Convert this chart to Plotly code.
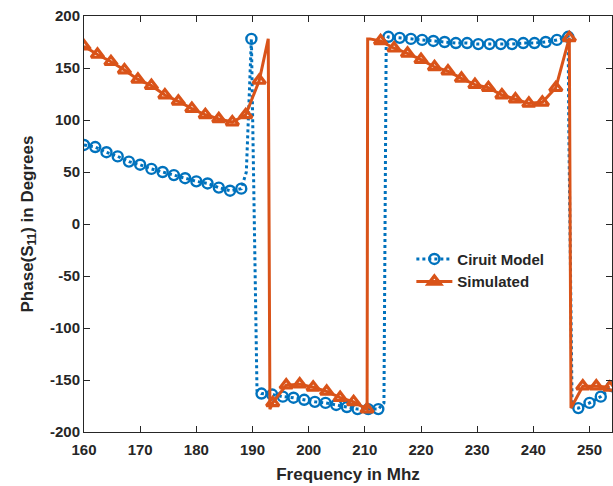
import plotly.graph_objects as go

# ---- Circuit model (blue): sampled points, drawn with circle markers
model_freq = [160, 162, 164, 166, 168, 170, 172, 174, 176, 178, 180, 182, 184, 186, 188,
              189.8,
              191.6, 193.5, 195.4, 197.3, 199.2, 201.1, 203.0, 204.9, 206.8, 208.7, 210.6, 212.4,
              214.2, 216.2, 218.2, 220.2, 222.2, 224.2, 226.2, 228.2, 230.2, 232.2, 234.2,
              236.2, 238.2, 240.2, 242.2, 244.2, 246.2,
              248, 250, 252, 254]
model_phase = [76, 74, 69, 65, 60, 57, 53, 50, 47, 44, 41, 39, 35, 32, 34,
               178,
               -163, -164, -166, -167, -169, -171, -172, -174, -176, -178, -178, -178,
               180, 179, 178, 177, 176, 175, 174, 174, 173, 173, 173,
               173, 174, 174, 175, 177, 180,
               -177, -172, -166, -156]
# Circuit model: intermediate points across the phase wraps (no markers)
model_wrap_freq = [188.9, 190.8, 213.4, 213.8, 246.3, 246.9]
model_wrap_phase = [50, -160, -172, 176, 95, -176]

# ---- Simulated (orange): sampled points, drawn with triangle markers
sim_freq = [160.0, 162.4, 164.8, 167.2, 169.6, 172.0, 174.4, 176.8, 179.2, 181.6, 184.0,
            186.4, 188.8, 191.2,
            193.6, 196.0, 198.4, 200.8, 203.2, 205.6, 208.0, 210.4,
            212.8, 215.2, 217.6, 220.0, 222.4, 224.8, 227.2, 229.6, 232.0, 234.4, 236.8,
            239.2, 241.6, 244.0, 246.4,
            248.8, 251.2, 253.6]
sim_phase = [171, 163, 156, 148, 139, 133, 124, 118, 111, 105, 101,
             98, 105, 138,
             -172, -155, -154, -157, -161, -167, -171, -178,
             176, 169, 164, 158, 151, 147, 140, 134, 131, 124, 120,
             116, 117, 131, 179,
             -156, -156, -157]
# Simulated: intermediate points across the phase wraps (no markers)
sim_wrap_freq = [192.8, 193.0, 193.1, 210.5, 210.9, 246.7]
sim_wrap_phase = [178, -25, -178, 178, 178, -177]

x_ticks = [160, 170, 180, 190, 200, 210, 220, 230, 240, 250]
y_ticks = [-200, -150, -100, -50, 0, 50, 100, 150, 200]
y_tick_labels = ["-200", "-150", "-100", "-50", "0", "50", "100", "150", "200"]

BLUE = "#0072BD"
ORANGE = "#D95319"
AX = "#262626"
FONT = "Liberation Sans, Arial, sans-serif"


def merge(f1, p1, f2, p2):
    pts = sorted([(f, p, True) for f, p in zip(f1, p1)] +
                 [(f, p, False) for f, p in zip(f2, p2)])
    xs = [a for a, _, _ in pts]
    ys = [b for _, b, _ in pts]
    sel = [i for i, (_, _, m) in enumerate(pts) if m]
    return xs, ys, sel


mx, my, msel = merge(model_freq, model_phase, model_wrap_freq, model_wrap_phase)
sx, sy, ssel = merge(sim_freq, sim_phase, sim_wrap_freq, sim_wrap_phase)

fig = go.Figure()
fig.add_trace(go.Scatter(
    x=mx, y=my, mode="lines+markers", name="Ciruit Model",
    line=dict(color=BLUE, width=3, dash="dot"),
    marker=dict(symbol="circle-open", size=10, color=BLUE, line=dict(width=2.4, color=BLUE)),
    selectedpoints=msel,
    selected=dict(marker=dict(opacity=1)),
    unselected=dict(marker=dict(opacity=0)),
))
fig.add_trace(go.Scatter(
    x=sx, y=sy, mode="lines+markers", name="Simulated",
    line=dict(color=ORANGE, width=3),
    marker=dict(symbol="triangle-up-open", size=11, color=ORANGE, line=dict(width=3.2, color=ORANGE)),
    selectedpoints=ssel,
    selected=dict(marker=dict(opacity=1)),
    unselected=dict(marker=dict(opacity=0)),
))

axis_common = dict(
    showgrid=False, zeroline=False, showline=True, linecolor=AX, linewidth=1,
    mirror="ticks", ticks="inside", ticklen=6, tickcolor=AX, tickwidth=1,
    automargin=False,
    tickfont=dict(family=FONT, size=15, color=AX, weight="bold"),
)

fig.update_layout(
    width=613, height=486,
    margin=dict(l=84, r=1, t=16, b=54),
    paper_bgcolor="white", plot_bgcolor="white",
    xaxis=dict(range=[160, 254], tickvals=x_ticks, ticklabelstandoff=4, **axis_common,
               title=dict(text="Frequency in Mhz", standoff=11,
                          font=dict(family=FONT, size=17, color=AX, weight="bold"))),
    yaxis=dict(range=[-200, 200], tickvals=y_ticks, ticktext=y_tick_labels, **axis_common,
               title=dict(text="Phase(S<sub>11</sub>) in Degrees", standoff=12,
                          font=dict(family=FONT, size=17, color=AX, weight="bold"))),
    legend=dict(x=0.62, y=0.455, xanchor="left", yanchor="top",
                bgcolor="rgba(255,255,255,0)", borderwidth=0, itemwidth=36,
                font=dict(family=FONT, size=15, color=AX, weight="bold"),
                tracegroupgap=0),
    showlegend=True,
)

fig.write_html("out.html", config={"displayModeBar": False},
               post_script="document.body.style.margin='0';document.body.style.padding='0';")
